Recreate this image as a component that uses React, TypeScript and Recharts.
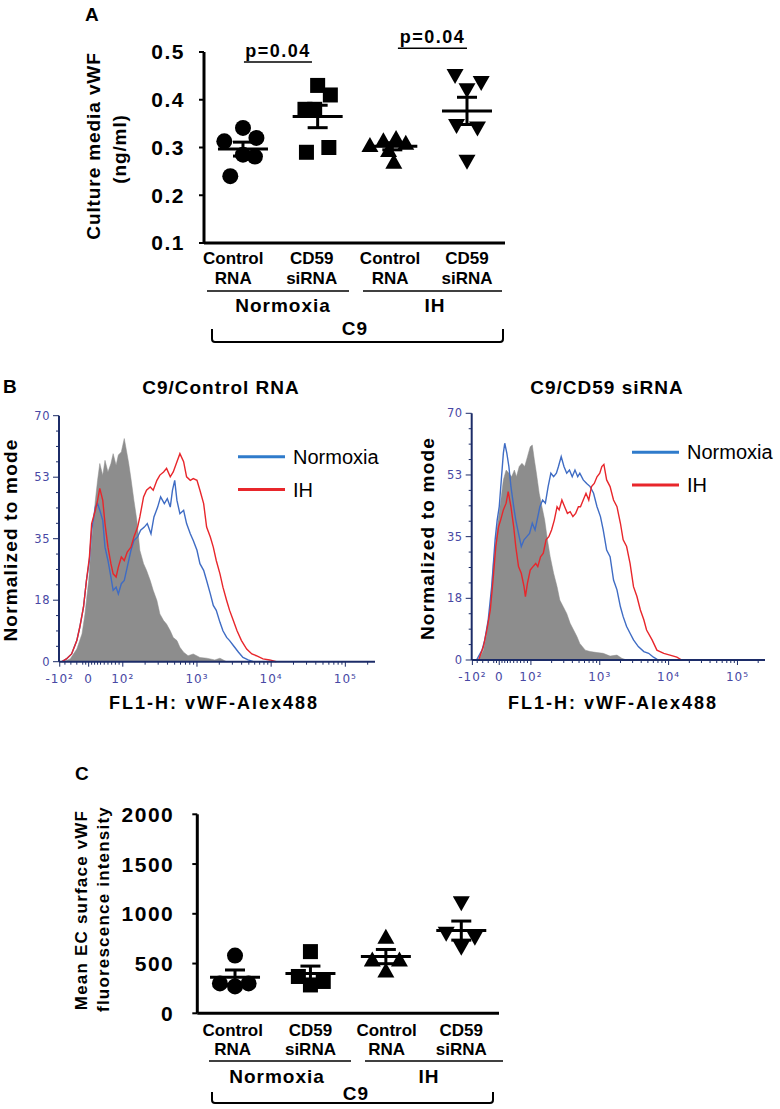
import React from 'react';
import {
  ScatterChart, Scatter, XAxis, YAxis, ErrorBar, ReferenceLine,
  ComposedChart, Area, Line,
} from 'recharts';

const FONT = '"Liberation Sans", Arial, sans-serif';
const NAVY = '#1c2c68';
const TICK_BLUE = '#4848a4';
const BLUE = '#3f6cc4';
const LEGEND_BLUE = '#2f7bcb';
const RED = '#e8262b';
const GRAY = '#8d8d8d';

// ---------- shared labels ----------
const categoryLabels = [['Control', 'RNA'], ['CD59', 'siRNA'], ['Control', 'RNA'], ['CD59', 'siRNA']];
const conditionLabels = ['Normoxia', 'IH'];

// ---------- A: culture media vWF (ng/ml) ----------
const mediaCtrlNorm = [0.341, 0.313, 0.32, 0.281, 0.285, 0.24];
const mediaSiNorm = [0.43, 0.41, 0.38, 0.38, 0.29, 0.3];
const mediaCtrlIH = [0.305, 0.315, 0.32, 0.31, 0.295, 0.27];
const mediaSiIH = [0.45, 0.435, 0.42, 0.345, 0.34, 0.27];
// horizontal spread of the dots inside each group (category units)
const mediaSpread = [
  [0, -0.25, 0.18, 0.16, 0, -0.17],
  [0, 0.17, -0.17, -0.04, -0.15, 0.15],
  [-0.3, -0.12, 0.05, 0.18, -0.05, 0.02],
  [-0.16, 0.19, 0, -0.14, 0.14, 0],
];
const mediaTicks = [0.1, 0.2, 0.3, 0.4, 0.5];
const mediaPValues = ['p=0.04', 'p=0.04'];

// ---------- B: flow histograms [channel (decades), % of mode] ----------
const histMajorPos = [1.15, 1.54, 2, 3, 4, 5];
const histMajorLabels = ['-10²', '0', '10²', '10³', '10⁴', '10⁵'];
const histYTicks = [0, 17.5, 35, 52.5, 70];

const leftIso: [number, number][] = [
  [1.2, 0], [1.29, 0.8], [1.38, 3.6], [1.45, 7.9], [1.49, 13.6], [1.54, 23.1], [1.58, 34.5], [1.63, 45.9],
  [1.66, 51.6], [1.69, 56.4], [1.73, 53], [1.76, 57.3], [1.8, 54], [1.84, 56.4], [1.87, 59.2], [1.91, 55.9],
  [1.94, 58.8], [1.98, 59.7], [2.02, 63.5], [2.04, 61.2], [2.08, 56.4], [2.11, 52.1], [2.15, 45.9], [2.19, 40.2],
  [2.23, 31.7], [2.28, 27.9], [2.32, 26], [2.37, 23.1], [2.41, 20.3], [2.46, 17.4], [2.5, 13.6], [2.55, 11.7],
  [2.59, 10.7], [2.64, 8.8], [2.68, 6.9], [2.73, 6], [2.77, 4.1], [2.82, 2.7], [2.88, 1.7], [2.95, 2.2],
  [3.04, 1.2], [3.13, 1], [3.24, 0.5], [3.31, 1], [3.4, 0],
];
const leftNorm: [number, number][] = [
  [1.18, 0], [1.24, 0.8], [1.31, 2.2], [1.38, 6], [1.42, 9.8], [1.47, 15.5], [1.51, 23.1], [1.55, 28.8],
  [1.58, 37.4], [1.63, 44], [1.66, 45], [1.69, 43.1], [1.73, 40.2], [1.76, 32.6], [1.8, 28.8], [1.84, 24.1],
  [1.87, 20.3], [1.91, 21.2], [1.94, 19.3], [1.98, 22.2], [2.02, 23.1], [2.06, 26.9], [2.11, 31.7], [2.15, 34.5],
  [2.2, 35.5], [2.24, 37.4], [2.29, 38.3], [2.33, 39.3], [2.38, 36.4], [2.42, 41.2], [2.47, 44], [2.51, 46.9],
  [2.56, 45], [2.6, 46.4], [2.64, 44], [2.67, 48.8], [2.7, 51.6], [2.73, 45.9], [2.77, 42.1], [2.82, 43.1],
  [2.86, 39.3], [2.91, 36.4], [2.95, 34.5], [3, 31.7], [3.04, 27.9], [3.09, 26], [3.13, 23.1], [3.18, 19.3],
  [3.22, 16], [3.26, 14.6], [3.31, 11.2], [3.35, 8.8], [3.4, 6.9], [3.44, 6], [3.49, 4.6], [3.56, 2.7],
  [3.62, 1.2], [3.69, 0.5], [3.76, 0],
];
const leftIH: [number, number][] = [
  [1.18, 0], [1.24, 0.8], [1.31, 2.2], [1.38, 6], [1.42, 9.8], [1.47, 15.5], [1.51, 23.1], [1.55, 29.8],
  [1.58, 39.3], [1.63, 43.1], [1.66, 45.9], [1.69, 49.3], [1.73, 45.9], [1.76, 39.3], [1.8, 32.6], [1.84, 27.9],
  [1.87, 25], [1.91, 24.1], [1.94, 26.9], [1.98, 29.8], [2.02, 28.8], [2.06, 31.2], [2.11, 32.6], [2.15, 35.5],
  [2.2, 38.3], [2.23, 41.2], [2.28, 46.9], [2.32, 48.8], [2.37, 49.7], [2.41, 48.8], [2.46, 51.6], [2.5, 53.1],
  [2.55, 54], [2.59, 55], [2.64, 52.6], [2.68, 54], [2.73, 56.9], [2.77, 59.2], [2.82, 56.9], [2.86, 52.6],
  [2.91, 51.6], [2.95, 52.1], [3, 51.6], [3.04, 48.8], [3.09, 45], [3.13, 38.3], [3.18, 35.5], [3.22, 32.6],
  [3.26, 28.8], [3.31, 25], [3.35, 21.2], [3.4, 17.4], [3.44, 14.6], [3.49, 11.7], [3.54, 8.8], [3.6, 6],
  [3.67, 3.6], [3.74, 2.2], [3.8, 1.7], [3.89, 0.8], [3.98, 0.5], [4.07, 0],
];
const rightIso: [number, number][] = [
  [1.24, 0], [1.31, 2.8], [1.36, 7.6], [1.41, 15.1], [1.45, 26.5], [1.5, 35.9], [1.55, 43.5], [1.6, 51.1],
  [1.64, 53.9], [1.68, 53], [1.72, 52], [1.76, 53.9], [1.79, 52], [1.83, 54.9], [1.87, 55.8], [1.91, 54.9],
  [1.95, 57.7], [1.99, 60.5], [2.02, 61], [2.05, 56.8], [2.08, 53], [2.12, 47.3], [2.16, 43.5], [2.2, 39.7],
  [2.24, 34.1], [2.28, 29.3], [2.33, 24.6], [2.38, 20.8], [2.42, 17], [2.47, 15.1], [2.52, 13.2], [2.57, 10.4],
  [2.62, 8.5], [2.67, 6.6], [2.71, 4.7], [2.79, 2.8], [2.86, 2.4], [2.96, 2.1], [3.05, 1.9], [3.15, 1.1],
  [3.25, 1.4], [3.32, 0.5], [3.39, 0],
];
const rightNorm: [number, number][] = [
  [1.21, 0], [1.29, 2.8], [1.33, 5.7], [1.38, 11.4], [1.43, 20.8], [1.48, 34.1], [1.51, 39.7], [1.54, 43.5],
  [1.57, 51.1], [1.6, 58.7], [1.62, 61.5], [1.65, 58.7], [1.68, 54.9], [1.71, 49.2], [1.75, 43.5], [1.78, 39.7],
  [1.82, 35.9], [1.86, 32.2], [1.9, 34.1], [1.94, 35], [1.98, 35.9], [2.02, 38.8], [2.06, 36.9], [2.09, 39.7],
  [2.13, 43.5], [2.17, 45.4], [2.21, 44.5], [2.25, 49.2], [2.29, 53], [2.33, 52], [2.37, 53], [2.4, 54.9],
  [2.44, 57.7], [2.48, 54.9], [2.52, 53], [2.56, 53.9], [2.6, 52], [2.64, 53.9], [2.68, 52], [2.71, 53],
  [2.76, 51.1], [2.81, 50.1], [2.86, 49.2], [2.91, 47.3], [2.96, 43.5], [3.01, 40.7], [3.05, 36.9], [3.1, 31.2],
  [3.15, 29.3], [3.2, 22.7], [3.25, 19.9], [3.3, 15.1], [3.34, 12.3], [3.39, 9.5], [3.44, 7.6], [3.49, 5.7],
  [3.56, 3.8], [3.64, 2.4], [3.71, 1.9], [3.78, 0.8], [3.85, 0],
];
const rightIH: [number, number][] = [
  [1.24, 0], [1.31, 3.8], [1.36, 8.5], [1.41, 14.2], [1.45, 22.7], [1.49, 32.2], [1.53, 37.8], [1.56, 39.7],
  [1.6, 42.6], [1.64, 44.5], [1.67, 47.8], [1.71, 43.5], [1.75, 37.8], [1.78, 32.2], [1.82, 26.5], [1.86, 24.6],
  [1.9, 20.8], [1.92, 18], [1.95, 21.8], [1.99, 25.5], [2.03, 26.5], [2.07, 27.4], [2.1, 26.5], [2.14, 29.3],
  [2.18, 30.3], [2.22, 34.1], [2.26, 35], [2.3, 36.9], [2.34, 39.7], [2.38, 43.5], [2.41, 42.6], [2.45, 45.4],
  [2.49, 43.5], [2.53, 41.6], [2.57, 42.1], [2.61, 40.7], [2.65, 41.6], [2.69, 43.5], [2.72, 43.5], [2.76, 45.4],
  [2.8, 47.3], [2.84, 45.4], [2.88, 49.2], [2.92, 50.1], [2.96, 52], [3, 53], [3.03, 54.9], [3.06, 55.5],
  [3.1, 51.1], [3.15, 49.2], [3.2, 45.4], [3.25, 43.5], [3.3, 38.8], [3.34, 34.1], [3.39, 32.2], [3.44, 27.4],
  [3.49, 20.8], [3.54, 18], [3.59, 14.2], [3.64, 11.4], [3.68, 8.5], [3.76, 5.7], [3.83, 2.8], [3.93, 1.9],
  [4.02, 1.4], [4.12, 0.8], [4.19, 0],
];

// ---------- C: mean EC surface vWF fluorescence ----------
const surfCtrlNorm = [580, 300, 270, 300];
const surfSiNorm = [620, 370, 320, 285];
const surfCtrlIH = [770, 540, 540, 430];
const surfSiIH = [1105, 800, 760, 660];
const surfSpread = [[0, -0.2, 0, 0.18], [0, -0.16, 0.17, 0], [0, -0.18, 0.18, 0], [0, -0.2, 0.18, 0]];
const surfTicks = [0, 500, 1000, 1500, 2000];

// ---------- helpers ----------
const mean = (a: number[]) => a.reduce((s, v) => s + v, 0) / a.length;
const sem = (a: number[]) => {
  const m = mean(a);
  return Math.sqrt(a.reduce((s, v) => s + (v - m) ** 2, 0) / (a.length - 1)) / Math.sqrt(a.length);
};

// minor ticks for the logicle-like axis
const histMinor: number[] = [1.22, 1.3, 1.38, 1.46, 1.5, 1.58, 1.62, 1.66, 1.7, 1.75, 1.8, 1.85, 1.9, 1.95];
[2, 3, 4].forEach(d => { for (let k = 2; k < 10; k++) histMinor.push(d + Math.log10(k)); });
histMinor.push(5 + Math.log10(2));
const histXTicks = [...histMajorPos, ...histMinor].sort((a, b) => a - b);
const histYAll = Array.from({ length: 17 }, (_, i) => i * 4.375);

const Dot = ({ cx, cy }: any) => <circle cx={cx} cy={cy} r={8} fill="#000" />;
const Sq = ({ cx, cy }: any) => <rect x={cx - 7.5} y={cy - 7.5} width={15} height={15} fill="#000" />;
const TriUp = ({ cx, cy }: any) => (
  <polygon points={`${cx},${cy - 8} ${cx + 8.5},${cy + 7} ${cx - 8.5},${cy + 7}`} fill="#000" />
);
const TriDown = ({ cx, cy }: any) => (
  <polygon points={`${cx - 8.5},${cy - 7} ${cx + 8.5},${cy - 7} ${cx},${cy + 8}`} fill="#000" />
);
const MeanBar = ({ cx, cy }: any) => (
  <line x1={cx - 25} x2={cx + 25} y1={cy} y2={cy} stroke="#000" strokeWidth={3} />
);
const shapes = [Dot, Sq, TriUp, TriDown];

function CatTick({ x, y, index, d1, d2 }: any) {
  const [a, b] = categoryLabels[index] || ['', ''];
  return (
    <text x={x} y={y} textAnchor="middle" fontSize={17} fontWeight={700} fill="#000">
      <tspan x={x} dy={d1}>{a}</tspan>
      <tspan x={x} dy={d2}>{b}</tspan>
    </text>
  );
}

function HistXTick({ x, y, payload }: any) {
  const idx = histMajorPos.findIndex(p => Math.abs(p - payload.value) < 1e-6);
  const major = idx >= 0;
  return (
    <g>
      <line x1={x} x2={x} y1={y} y2={y + (major ? 5 : 3)} stroke={NAVY} strokeWidth={1} />
      {major && (
        <text x={x} y={y + 21} textAnchor="middle" fontSize={12} fill={TICK_BLUE}
          fontFamily="DejaVu Sans" letterSpacing={1}>{histMajorLabels[idx]}</text>
      )}
    </g>
  );
}

function HistYTick({ x, y, payload }: any) {
  const v = payload.value;
  const major = histYTicks.some(t => Math.abs(t - v) < 1e-6);
  return (
    <g>
      <line x1={x - (major ? 6 : 3)} x2={x} y1={y} y2={y} stroke={NAVY} strokeWidth={1} />
      {major && (
        <text x={x - 9} y={y} dy={4} textAnchor="end" fontSize={11.5} fill={TICK_BLUE}
          fontFamily="DejaVu Sans" letterSpacing={0.5}>{Math.round(v)}</text>
      )}
    </g>
  );
}

const numTick = { fill: '#000', fontSize: 21, fontWeight: 700, letterSpacing: 1.5 };

function MediaChart() {
  const groups = [mediaCtrlNorm, mediaSiNorm, mediaCtrlIH, mediaSiIH];
  const pts = groups.map((g, i) => g.map((y, j) => ({ x: i + 1 + mediaSpread[i][j], y })));
  const means = groups.map((g, i) => ({ x: i + 1, y: mean(g), sem: sem(g) }));
  return (
    <ScatterChart width={520} height={300} margin={{ top: 52, right: 15, bottom: 12, left: 144 }}>
      <XAxis type="number" dataKey="x" domain={[0.478, 4.509]} ticks={[0.87, 1.92, 2.97, 4]} interval={0}
        tickSize={0} tickMargin={0} height={45} allowDataOverflow
        axisLine={{ stroke: '#000', strokeWidth: 3 }} tickLine={false}
        tick={(p: any) => <CatTick {...p} d1={21} d2={20} />} />
      <YAxis type="number" dataKey="y" domain={[0.1, 0.5]} ticks={mediaTicks} interval={0} width={60}
        tickSize={5} tickMargin={14} tickFormatter={(v: number) => v.toFixed(1)}
        axisLine={{ stroke: '#000', strokeWidth: 3 }} tickLine={{ stroke: '#000', strokeWidth: 2 }} tick={numTick} />
      <ReferenceLine segment={[{ x: 1.013, y: 0.479 }, { x: 1.924, y: 0.479 }]} stroke="#000" strokeWidth={1.5}
        ifOverflow="visible"
        label={{ value: mediaPValues[0], position: 'top', offset: 5, fill: '#000', fontSize: 18, fontWeight: 700, letterSpacing: 1.5 }} />
      <ReferenceLine segment={[{ x: 3.075, y: 0.508 }, { x: 4.0, y: 0.508 }]} stroke="#000" strokeWidth={1.5}
        ifOverflow="visible"
        label={{ value: mediaPValues[1], position: 'top', offset: 5, fill: '#000', fontSize: 18, fontWeight: 700, letterSpacing: 1.5 }} />
      {pts.map((p, i) => (
        <Scatter key={i} data={p} shape={shapes[i]} isAnimationActive={false} />
      ))}
      <Scatter data={means} shape={MeanBar} isAnimationActive={false}>
        <ErrorBar dataKey="sem" direction="y" width={10} stroke="#000" strokeWidth={3} />
      </Scatter>
    </ScatterChart>
  );
}

function SurfaceChart() {
  const groups = [surfCtrlNorm, surfSiNorm, surfCtrlIH, surfSiIH];
  const pts = groups.map((g, i) => g.map((y, j) => ({ x: i + 1 + surfSpread[i][j], y })));
  const means = groups.map((g, i) => ({ x: i + 1, y: mean(g), sem: sem(g) }));
  return (
    <ScatterChart width={520} height={300} margin={{ top: 34.3, right: 21, bottom: 16.7, left: 137.3 }}>
      <XAxis type="number" dataKey="x" domain={[0.5, 4.5]} ticks={[0.97, 2, 3.01, 4]} interval={0}
        tickSize={0} tickMargin={0} height={50} allowDataOverflow
        axisLine={{ stroke: '#000', strokeWidth: 3 }} tickLine={false}
        tick={(p: any) => <CatTick {...p} d1={23} d2={19} />} />
      <YAxis type="number" dataKey="y" domain={[0, 2000]} ticks={surfTicks} interval={0} width={60}
        tickSize={5} tickMargin={18}
        axisLine={{ stroke: '#000', strokeWidth: 3 }} tickLine={{ stroke: '#000', strokeWidth: 2 }} tick={numTick} />
      {pts.map((p, i) => (
        <Scatter key={i} data={p} shape={shapes[i]} isAnimationActive={false} />
      ))}
      <Scatter data={means} shape={MeanBar} isAnimationActive={false}>
        <ErrorBar dataKey="sem" direction="y" width={10} stroke="#000" strokeWidth={3} />
      </Scatter>
    </ScatterChart>
  );
}

function HistChart({ iso, norm, ih, margin }: any) {
  const toXY = (arr: [number, number][]) => arr.map(([x, y]) => ({ x, y }));
  return (
    <ComposedChart width={390} height={300} margin={margin}>
      <XAxis type="number" dataKey="x" domain={[1.14, 5.4]} ticks={histXTicks} interval={0}
        tickSize={0} tickMargin={0} height={30} allowDataOverflow
        axisLine={{ stroke: NAVY, strokeWidth: 2 }} tickLine={false} tick={HistXTick} />
      <YAxis type="number" domain={[0, 70]} ticks={histYAll} interval={0} width={40}
        tickSize={0} tickMargin={0}
        axisLine={{ stroke: NAVY, strokeWidth: 2 }} tickLine={false} tick={HistYTick} />
      <Area data={toXY(iso)} dataKey="y" type="linear" fill={GRAY} fillOpacity={1} stroke={GRAY}
        strokeWidth={0.5} isAnimationActive={false} />
      <Line data={toXY(norm)} dataKey="y" type="linear" stroke={BLUE} strokeWidth={1.4} dot={false}
        isAnimationActive={false} />
      <Line data={toXY(ih)} dataKey="y" type="linear" stroke={RED} strokeWidth={1.4} dot={false}
        isAnimationActive={false} />
    </ComposedChart>
  );
}

const B: any = { fontFamily: FONT, fontWeight: 700, fill: '#000' };

function VText({ x, y, size, spacing, children }: any) {
  return (
    <text x={x} y={y} transform={`rotate(-90 ${x} ${y})`} textAnchor="middle" dominantBaseline="central"
      fontSize={size} letterSpacing={spacing} {...B}>{children}</text>
  );
}

function Bracket({ x1, x2, top, bottom }: any) {
  return (
    <path d={`M${x1},${top} L${x1},${bottom - 3} Q${x1},${bottom} ${x1 + 3},${bottom} L${x2 - 3},${bottom} Q${x2},${bottom} ${x2},${bottom - 3} L${x2},${top}`}
      fill="none" stroke="#000" strokeWidth={2} />
  );
}

function Overlay() {
  return (
    <svg width={780} height={1109} style={{ position: 'absolute', left: 0, top: 0, pointerEvents: 'none' }}>
      {/* panel letters */}
      <text x={85} y={20.5} fontSize={19} {...B}>A</text>
      <text x={3} y={393} fontSize={19} {...B}>B</text>
      <text x={75} y={780} fontSize={19} {...B}>C</text>

      {/* A */}
      <VText x={93.5} y={146} size={19} spacing={0.9}>Culture media vWF</VText>
      <VText x={119} y={149} size={19} spacing={0.9}>(ng/ml)</VText>
      <line x1={207} x2={349} y1={291} y2={291} stroke="#000" strokeWidth={1.5} />
      <line x1={363} x2={502} y1={291} y2={291} stroke="#000" strokeWidth={1.5} />
      <text x={283} y={305} textAnchor="middle" dominantBaseline="central" fontSize={19} letterSpacing={1} {...B}>{conditionLabels[0]}</text>
      <text x={435} y={305} textAnchor="middle" dominantBaseline="central" fontSize={19} letterSpacing={1} {...B}>{conditionLabels[1]}</text>
      <Bracket x1={212} x2={503} top={329} bottom={342} />
      <text x={355} y={328} textAnchor="middle" dominantBaseline="central" fontSize={19} letterSpacing={1} {...B}>C9</text>

      {/* B */}
      <text x={221} y={387} textAnchor="middle" dominantBaseline="central" fontSize={19} letterSpacing={1} {...B}>C9/Control RNA</text>
      <text x={607} y={387} textAnchor="middle" dominantBaseline="central" fontSize={19} letterSpacing={1} {...B}>C9/CD59 siRNA</text>
      <VText x={10} y={540} size={19} spacing={1.2}>Normalized to mode</VText>
      <VText x={427.5} y={538.5} size={19} spacing={1.2}>Normalized to mode</VText>
      <text x={214} y={703} textAnchor="middle" dominantBaseline="central" fontSize={18} letterSpacing={2} {...B}>FL1-H: vWF-Alex488</text>
      <text x={613} y={703} textAnchor="middle" dominantBaseline="central" fontSize={18} letterSpacing={2} {...B}>FL1-H: vWF-Alex488</text>
      {[{ lx: 238, ty: 456.7, ry: 489.5 }, { lx: 632, ty: 452.3, ry: 485 }].map((l, i) => (
        <g key={i}>
          <line x1={l.lx} x2={l.lx + 47} y1={l.ty} y2={l.ty} stroke={LEGEND_BLUE} strokeWidth={3} />
          <text x={l.lx + 55} y={l.ty} dominantBaseline="central" fontSize={20} fontFamily={FONT} fill="#000">{conditionLabels[0]}</text>
          <line x1={l.lx} x2={l.lx + 47} y1={l.ry} y2={l.ry} stroke={RED} strokeWidth={3} />
          <text x={l.lx + 55} y={l.ry} dominantBaseline="central" fontSize={20} fontFamily={FONT} fill="#000">{conditionLabels[1]}</text>
        </g>
      ))}

      {/* C */}
      <VText x={81} y={910} size={17} spacing={1.2}>Mean EC surface vWF</VText>
      <VText x={103} y={909} size={17} spacing={1.2}>fluorescence intensity</VText>
      <line x1={209} x2={351} y1={1061} y2={1061} stroke="#000" strokeWidth={1.5} />
      <line x1={365} x2={503} y1={1061} y2={1061} stroke="#000" strokeWidth={1.5} />
      <text x={277} y={1076} textAnchor="middle" dominantBaseline="central" fontSize={19} letterSpacing={1} {...B}>{conditionLabels[0]}</text>
      <text x={429} y={1076} textAnchor="middle" dominantBaseline="central" fontSize={19} letterSpacing={1} {...B}>{conditionLabels[1]}</text>
      <Bracket x1={212} x2={493} top={1092} bottom={1103} />
      <text x={356} y={1093} textAnchor="middle" dominantBaseline="central" fontSize={19} letterSpacing={1} {...B}>C9</text>
    </svg>
  );
}

export default function App() {
  return (
    <div style={{ position: 'absolute', left: 0, top: 0, width: 780, height: 1109, overflow: 'hidden', background: '#fff', fontFamily: FONT }}>
      <div style={{ position: 'absolute', left: 0, top: 0 }}><MediaChart /></div>
      <div style={{ position: 'absolute', left: 0, top: 400 }}>
        <HistChart iso={leftIso} norm={leftNorm} ih={leftIH} margin={{ top: 15.7, right: 15, bottom: 8.3, left: 19 }} />
      </div>
      <div style={{ position: 'absolute', left: 390, top: 400 }}>
        <HistChart iso={rightIso} norm={rightNorm} ih={rightIH} margin={{ top: 13.3, right: 15, bottom: 10, left: 41.7 }} />
      </div>
      <div style={{ position: 'absolute', left: 0, top: 780 }}><SurfaceChart /></div>
      <Overlay />
    </div>
  );
}
